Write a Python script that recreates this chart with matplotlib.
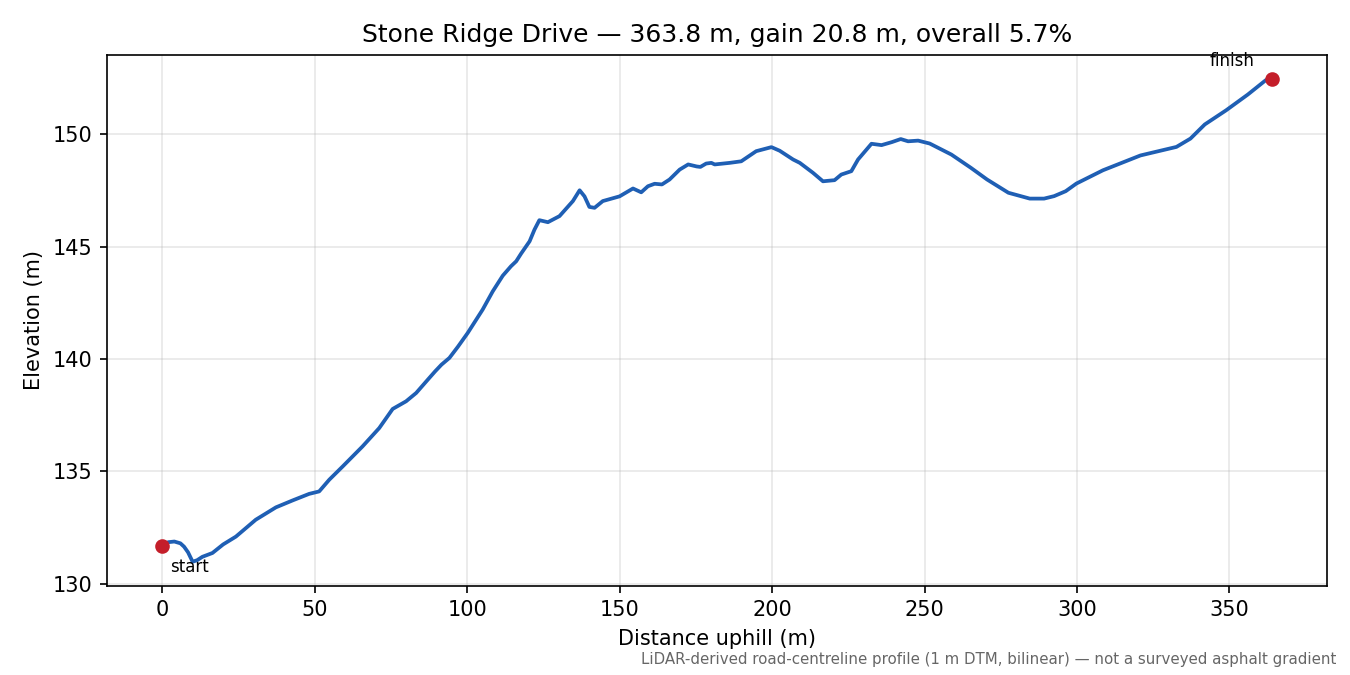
import matplotlib
matplotlib.use("Agg")
import matplotlib.pyplot as plt

distance_m = [0, 2, 4, 6, 7.2, 8.5, 10, 11.5, 13.2, 16.5, 20, 24.2, 30.7, 37.3, 42.8, 48.2,
              51.5, 54.8, 59.2, 65.7, 71.2, 75.6, 80.0, 83.3, 87.1, 89.5, 91.6, 94.2, 97,
              100.2, 105.1, 108.4, 111.7, 114.4, 116.1, 117.7, 120.5, 122.1, 123.7, 126.5,
              130.3, 134.7, 136.9, 138.5, 140.1, 141.8, 144.5, 150.0, 154.4, 157.1, 159.3,
              161.5, 163.9, 166.4, 169.7, 172.5, 175.3, 176.5, 178.4, 180.1, 181.2, 186.1,
              189.9, 194.8, 199.8, 202.5, 206.9, 209.1, 213.4, 216.7, 220.5, 222.7, 226.0,
              228.2, 232.6, 235.9, 239.2, 242.2, 244.6, 247.9, 251.7, 258.8, 265.2, 270.5,
              277.5, 284.5, 289.2, 292.5, 296.3, 299.8, 308.5, 320.8, 326.7, 332.6, 337.2,
              341.9, 348.9, 356.0, 361.9, 363.8]

elevation_m = [131.69, 131.85, 131.88, 131.8, 131.65, 131.4, 130.98, 131.05, 131.2, 131.37,
               131.75, 132.1, 132.85, 133.4, 133.71, 134.0, 134.11, 134.63, 135.22, 136.11,
               136.93, 137.78, 138.12, 138.49, 139.08, 139.45, 139.75, 140.05, 140.55,
               141.16, 142.2, 143.01, 143.71, 144.13, 144.35, 144.69, 145.24, 145.76,
               146.18, 146.09, 146.36, 147.03, 147.51, 147.24, 146.77, 146.73, 147.03,
               147.24, 147.59, 147.42, 147.69, 147.8, 147.77, 147.99, 148.43, 148.66,
               148.57, 148.55, 148.70, 148.73, 148.66, 148.73, 148.80, 149.25, 149.43,
               149.27, 148.88, 148.73, 148.29, 147.91, 147.96, 148.21, 148.36, 148.88,
               149.58, 149.52, 149.65, 149.79, 149.69, 149.72, 149.59, 149.10, 148.51,
               147.99, 147.40, 147.14, 147.14, 147.25, 147.47, 147.81, 148.40, 149.06,
               149.25, 149.44, 149.81, 150.44, 151.07, 151.77, 152.41, 152.47]

title = "Stone Ridge Drive \u2014 363.8 m, gain 20.8 m, overall 5.7%"
footnote = ("LiDAR-derived road-centreline profile (1 m DTM, bilinear) \u2014 "
            "not a surveyed asphalt gradient")

fig = plt.figure(figsize=(9, 4.5), dpi=150)
ax = fig.add_axes([0.079, 0.132, 0.904, 0.787])

ax.plot(distance_m, elevation_m, color="#1f5fb4", lw=1.8, zorder=2)
ax.plot([distance_m[0], distance_m[-1]], [elevation_m[0], elevation_m[-1]],
        "o", color="#c41e2a", ms=6, zorder=3)

ax.annotate("start", (distance_m[0], elevation_m[0]), xytext=(4, -6),
            textcoords="offset points", ha="left", va="top", fontsize=8)
ax.annotate("finish", (distance_m[-1], elevation_m[-1]), xytext=(-8, 4),
            textcoords="offset points", ha="right", va="bottom", fontsize=8)

ax.grid(True, alpha=0.3)
ax.set_xlabel("Distance uphill (m)")
ax.set_ylabel("Elevation (m)")
ax.set_title(title, fontsize=12)

fig.text(0.99, 0.012, footnote, ha="right", va="bottom", fontsize=7.2, color="#666666")

fig.savefig("out.png", dpi=150)
